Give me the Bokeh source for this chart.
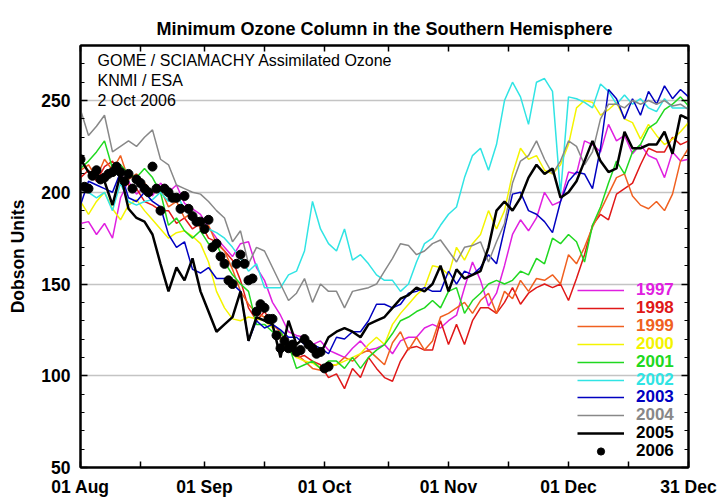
from bokeh.plotting import figure
from bokeh.models import (FixedTicker, LinearAxis, Range1d, Legend, LegendItem, Label,
                          CustomLabelingPolicy)
from bokeh.embed import file_html
from bokeh.resources import INLINE

# ---------------- data ----------------
title_text = "Minimum Ozone Column in the Southern Hemisphere"
note_lines = ["GOME / SCIAMACHY Assimilated Ozone", "KNMI / ESA", "2 Oct 2006"]
y_label = "Dobson Units"

# day number counted from 1 August
tick_days = [0, 31, 61, 92, 122, 152]
tick_labels = ["01 Aug", "01 Sep", "01 Oct", "01 Nov", "01 Dec", "31 Dec"]
mid_month_days = [15, 46, 77, 107, 137]
y_major = [50, 100, 150, 200, 250]
y_minor = [50, 60, 70, 80, 90, 100, 110, 120, 130, 140, 150, 160, 170, 180, 190,
           200, 210, 220, 230, 240, 250, 260, 270, 280]

days = list(range(0, 153, 2))          # every second day, 1 Aug .. 31 Dec
days_2006 = list(range(0, 63))         # 1 Aug .. 2 Oct 2006

years = ["1997", "1998", "1999", "2000", "2001", "2002", "2003", "2004", "2005"]
colors = ["#e020e0", "#e01818", "#f06020", "#f4f400", "#20d820", "#30e4e4", "#0000c0", "#888888", "#000000"]

y1997 = [183, 184, 177, 183, 175, 197, 206, 199, 203, 198,
         205, 200, 204, 194, 191, 188, 181, 175, 170, 165,
         172, 173, 159, 152, 140, 133, 124, 122, 121, 117,
         119, 114, 112, 110, 115, 119, 114, 115, 117, 112,
         119, 121, 121, 126, 128, 126, 130, 133, 148, 162,
         152, 138, 145, 160, 177, 185, 179, 186, 200, 193,
         195, 211, 210, 228, 226, 222, 237, 228, 231, 221,
         226, 220, 218, 208, 222, 217, 218]
y1998 = [208, 212, 206, 214, 217, 210, 204, 202, 195, 193,
         190, 190, 183, 186, 180, 183, 175, 173, 168, 163,
         152, 137, 130, 135, 128, 124, 117, 110, 111, 108,
         106, 99, 101, 93, 104, 99, 110, 104, 99, 97,
         108, 115, 116, 114, 114, 130, 117, 128, 117, 130,
         137, 137, 134, 140, 148, 139, 145, 148, 150, 148,
         150, 141, 153, 166, 182, 188, 185, 199, 202, 205,
         215, 224, 222, 222, 230, 226, 228]
y1999 = [212, 215, 208, 218, 212, 220, 207, 210, 205, 200,
         202, 192, 195, 186, 189, 180, 182, 172, 168, 158,
         146, 139, 134, 132, 128, 124, 114, 112, 108, 104,
         103, 105, 106, 110, 108, 112, 114, 110, 106, 118,
         124, 114, 121, 114, 119, 132, 134, 137, 140, 134,
         141, 145, 134, 146, 142, 152, 146, 153, 152, 155,
         150, 166, 161, 170, 181, 190, 199, 208, 210, 198,
         193, 191, 195, 190, 199, 217, 224]
y2000 = [195, 188, 195, 200, 191, 185, 193, 196, 190, 185,
         180, 175, 178, 179, 176, 172, 162, 146, 137, 131,
         130, 132, 131, 130, 126, 120, 114, 110, 108, 107,
         104, 106, 106, 108, 110, 112, 117, 121, 117, 128,
         134, 139, 144, 148, 160, 159, 155, 170, 163, 172,
         177, 190, 180, 190, 210, 224, 218, 220, 212, 210,
         215, 226, 246, 250, 249, 242, 245, 249, 240, 238,
         229, 237, 231, 226, 229, 233, 238]
y2001 = [213, 217, 222, 228, 213, 215, 210, 208, 213, 208,
         200, 182, 186, 179, 175, 179, 172, 172, 162, 155,
         150, 146, 128, 128, 124, 124, 117, 104, 106, 108,
         104, 108, 108, 104, 110, 104, 110, 114, 117, 123,
         130, 132, 135, 137, 141, 137, 146, 148, 134, 141,
         145, 150, 152, 150, 152, 157, 155, 164, 161, 175,
         172, 177, 173, 162, 182, 192, 205, 217, 210, 222,
         226, 235, 238, 245, 248, 252, 247]
y2002 = [205, 200, 197, 200, 190, 205, 195, 193, 195, 196,
         200, 195, 199, 191, 186, 182, 180, 178, 175, 170,
         164, 157, 161, 148, 148, 148, 155, 157, 168, 195,
         180, 172, 168, 180, 163, 166, 161, 155, 152, 152,
         146, 150, 162, 172, 175, 182, 188, 192, 208, 220,
         224, 212, 226, 250, 260, 252, 237, 260, 262, 255,
         199, 252, 251, 249, 246, 259, 255, 248, 253, 248,
         251, 246, 244, 251, 246, 246, 246]
y2003 = [193, 206, 204, 202, 200, 211, 197, 195, 200, 195,
         192, 177, 170, 173, 158, 156, 159, 153, 153, 150,
         146, 119, 130, 126, 128, 125, 121, 121, 117, 117,
         115, 112, 121, 120, 124, 124, 130, 139, 139, 137,
         139, 145, 146, 148, 146, 146, 157, 150, 157, 155,
         159, 166, 161, 180, 199, 200, 190, 188, 184, 178,
         195, 206, 211, 210, 202, 224, 256, 251, 240, 251,
         242, 255, 248, 258, 251, 256, 252]
y2004 = [245, 231, 236, 242, 222, 225, 228, 225, 230, 234,
         218, 215, 204, 202, 200, 199, 195, 190, 186, 173,
         179, 161, 170, 168, 159, 150, 141, 145, 153, 140,
         150, 146, 146, 137, 146, 147, 148, 150, 157, 164,
         172, 171, 166, 168, 172, 174, 168, 162, 170, 171,
         173, 162, 173, 183, 205, 217, 220, 228, 218, 210,
         217, 228, 225, 215, 222, 240, 248, 248, 246, 250,
         248, 250, 248, 250, 247, 248, 245]
y2005 = [218, 211, 210, 206, 193, 210, 191, 186, 184, 177,
         161, 146, 159, 152, 164, 146, 135, 124, 128, 132,
         146, 119, 132, 130, 128, 110, 130, 117, 121, 117,
         112, 121, 124, 126, 124, 121, 128, 130, 132, 137,
         142, 144, 148, 146, 150, 160, 146, 158, 153, 155,
         157, 170, 190, 195, 190, 197, 208, 215, 210, 213,
         197, 200, 206, 217, 228, 217, 211, 213, 233, 224,
         224, 226, 226, 233, 221, 242, 240]
y2006 = [218, 203, 202, 209, 212, 207, 208, 210, 211, 214,
         211, 206, 210, 202, 207, 205, 202, 200, 214, 202,
         190, 202, 200, 197, 197, 191, 198, 191, 187, 184,
         184, 180, 185, 170, 172, 165, 161, 152, 150, 161,
         166, 161, 152, 153, 135, 139, 137, 131, 131, 122,
         115, 119, 115, 117, 113, 114, 120, 117, 115, 112,
         113, 104, 105]

series = [y1997, y1998, y1999, y2000, y2001, y2002, y2003, y2004, y2005]

# ---------------- figure ----------------
FONT = "Liberation Sans"

p = figure(width=720, height=504, x_range=Range1d(0, 152), y_range=Range1d(50, 280),
           output_backend="svg", toolbar_location=None, title=title_text,
           min_border_left=80, min_border_right=32, min_border_top=45, min_border_bottom=37)
p.background_fill_color = "white"
p.border_fill_color = "white"
p.outline_line_color = "black"
p.outline_line_width = 2

p.title.text_font = FONT
p.title.text_font_size = "18px"
p.title.text_font_style = "bold"
p.title.text_color = "black"
p.title.align = "center"
p.title.standoff = 14

p.xgrid.grid_line_color = None
p.ygrid.grid_line_color = "#c4c4c4"
p.ygrid.grid_line_width = 1.5

x_ticker = FixedTicker(ticks=tick_days, minor_ticks=mid_month_days)
y_ticker = FixedTicker(ticks=y_major, minor_ticks=y_minor)
overrides = {d: lab for d, lab in zip(tick_days, tick_labels)}
hide_all = CustomLabelingPolicy(code="""
    for (const i of indices) indices.unset(i)
    return indices
""")


def style_x(ax, labels=True):
    ax.ticker = x_ticker
    ax.axis_line_width = 2
    ax.axis_line_color = "black"
    ax.major_tick_in = 6
    ax.major_tick_out = 0
    ax.major_tick_line_width = 1.5
    ax.minor_tick_in = 6
    ax.minor_tick_out = 0
    ax.minor_tick_line_width = 1.5
    if labels:
        ax.major_label_overrides = overrides
        ax.major_label_text_font = FONT
        ax.major_label_text_font_size = "17.5px"
        ax.major_label_text_font_style = "bold"
        ax.major_label_text_color = "black"
        ax.major_label_standoff = 9
    else:
        ax.major_label_policy = hide_all
        ax.major_label_text_font_size = "0px"
        ax.major_label_standoff = 0


def style_y(ax, labels=True):
    ax.ticker = y_ticker
    ax.axis_line_width = 2
    ax.axis_line_color = "black"
    ax.major_tick_in = 7
    ax.major_tick_out = 0
    ax.minor_tick_in = 4
    ax.minor_tick_out = 0
    ax.major_tick_line_width = 1.5
    ax.minor_tick_line_width = 1.2
    if labels:
        ax.major_label_text_font = FONT
        ax.major_label_text_font_size = "17.5px"
        ax.major_label_text_font_style = "bold"
        ax.major_label_text_color = "black"
        ax.major_label_standoff = 10
    else:
        ax.major_label_policy = hide_all
        ax.major_label_text_font_size = "0px"
        ax.major_label_standoff = 0


style_x(p.xaxis[0])
style_y(p.yaxis[0])
p.yaxis[0].axis_label = y_label
p.yaxis[0].axis_label_text_font = FONT
p.yaxis[0].axis_label_text_font_size = "17.5px"
p.yaxis[0].axis_label_text_font_style = "bold"
p.yaxis[0].axis_label_text_color = "black"
p.yaxis[0].axis_label_standoff = 10

top_axis = LinearAxis()
style_x(top_axis, labels=False)
p.add_layout(top_axis, "above")
right_axis = LinearAxis()
style_y(right_axis, labels=False)
p.add_layout(right_axis, "right")

renderers = []
for yr, col, vals in zip(years, colors, series):
    lw = 2.5 if yr == "2005" else 1.5
    r = p.line(days, vals, line_color=col, line_width=lw)
    renderers.append(r)
r2006 = p.scatter(days_2006, y2006, size=9, color="black")

legend_labels = years + ["2006"]
legend_colors = colors + ["#000000"]
legend_renderers = renderers + [r2006]
for k, (lab, col, rr) in enumerate(zip(legend_labels, legend_colors, legend_renderers)):
    leg = Legend(items=[LegendItem(label=lab, renderers=[rr])],
                 location=(497, 167 - 17.9 * k), padding=0, margin=0, spacing=0,
                 glyph_width=47, glyph_height=18, label_height=18, label_standoff=12,
                 label_text_font=FONT, label_text_font_size="17px",
                 label_text_font_style="bold", label_text_color=col,
                 border_line_alpha=0, background_fill_alpha=0)
    p.add_layout(leg)

note_y = [271.8, 260.9, 250.0]
for txt, yy in zip(note_lines, note_y):
    p.add_layout(Label(x=4.25, y=yy, text=txt, text_font=FONT, text_font_size="16px",
                       text_baseline="middle", text_color="black"))

open("out.html", "w").write(file_html(p, INLINE))
